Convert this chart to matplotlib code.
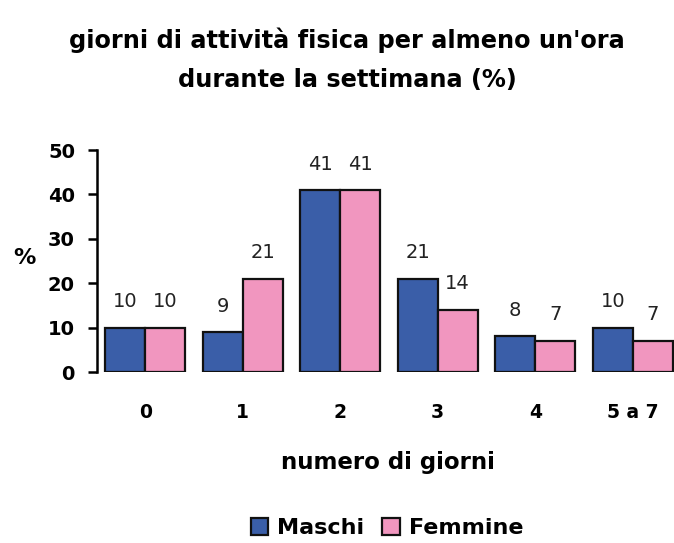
import matplotlib
matplotlib.use("Agg")
import matplotlib.pyplot as plt
import numpy as np
from matplotlib.patches import Patch

categories = ["0", "1", "2", "3", "4", "5 a 7"]
maschi = [10, 9, 41, 21, 8, 10]
femmine = [10, 21, 41, 14, 7, 7]

plt.rcParams['font.family'] = ['DejaVu Sans']

fig = plt.figure(figsize=(6.74, 5.43), dpi=100)
x0 = 96.5
unit = 97.5
ax = fig.add_axes([x0/674, 1-372/543, (674-x0)/674, (372-150)/543])

x = np.arange(len(categories))
w = 0.41
blue = "#3a5ea8"
pink = "#f196bf"
b1 = ax.bar(x - w/2, maschi, w, color=blue, edgecolor="#111111", linewidth=1.6)
b2 = ax.bar(x + w/2, femmine, w, color=pink, edgecolor="#111111", linewidth=1.6)
for bars, vals in ((b1, maschi), (b2, femmine)):
    for r, v in zip(bars, vals):
        ax.text(r.get_x() + r.get_width()/2, v + 4.6, str(v), ha="center", va="baseline",
                fontsize=14, color="#222222")

ax.set_xlim(-0.5, (674-x0)/unit - 0.5)
ax.set_ylim(0, 50)
ax.set_yticks([0, 10, 20, 30, 40, 50])
ax.set_xticks(x)
ax.set_xticklabels(categories, fontsize=13.5, fontweight="bold")
ax.tick_params(axis="x", length=0, pad=22)
ax.tick_params(axis="y", length=6.5, width=1.8, labelsize=14, pad=9)
for lab in ax.get_yticklabels():
    lab.set_fontweight("bold")
for s in ("top", "right", "bottom"):
    ax.spines[s].set_visible(False)
ax.spines["left"].set_linewidth(1.8)

fig.text(24/674, 1-258/543, "%", fontsize=16, fontweight="bold", ha="center", va="center")
fig.text(388/674, 1-469/543, "numero di giorni", fontsize=16.5, fontweight="bold",
         ha="center", va="baseline")
fig.text(347/674, 1-48/543, "giorni di attività fisica per almeno un'ora", fontsize=17.3,
         fontweight="bold", ha="center", va="baseline")
fig.text(347/674, 1-87/543, "durante la settimana (%)", fontsize=17.3,
         fontweight="bold", ha="center", va="baseline")

handles = [Patch(facecolor=blue, edgecolor="#111111", linewidth=1.6, label="Maschi"),
           Patch(facecolor=pink, edgecolor="#111111", linewidth=1.6, label="Femmine")]
fig.legend(handles=handles, loc="center", bbox_to_anchor=(387/674, 1-528/543), ncol=2,
           frameon=False, prop={"size": 16, "weight": "bold"}, handlelength=0.8,
           handleheight=0.8, handletextpad=0.4, columnspacing=0.8)

fig.savefig("out.png", dpi=100)
